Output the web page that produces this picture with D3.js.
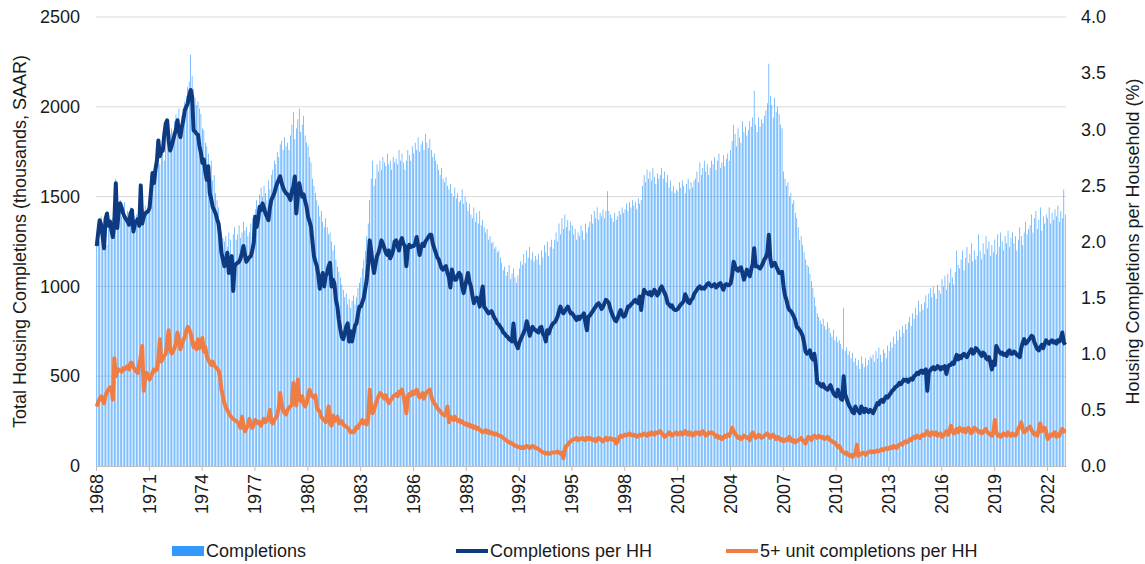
<!DOCTYPE html>
<html>
<head>
<meta charset="utf-8">
<script src="https://cdn.jsdelivr.net/npm/d3@7"></script>
<style>
  body { margin: 0; background: #fff; }
  text { font-family: "Liberation Sans", Arial, sans-serif; fill: #1a1a1a; }
</style>
</head>
<body>
<div class="vis-combo"></div>
<script>
// monthly, Jan 1968 - Jan 2023
const tickLabels = ['1968','1971','1974','1977','1980','1983','1986','1989','1992','1995',
    '1998','2001','2004','2007','2010','2013','2016','2019','2022'];

// total completions, thousands SAAR
const completions = [
  1290,1330,1250,1390,1280,1360,1320,1230,1400,1340,1310,1380, // 1968
  1420,1600,1360,1450,1480,1390,1440,1470,1380,1420,1400,1440,
  1430,1330,1390,1400,1380,1420,1560,1370,1430,1450,1420,1440, // 1970
  1500,1620,1580,1650,1600,1700,1780,1680,1720,1760,1700,1840,
  1900,1800,1850,1880,1860,1920,1960,1900,1990,1890,1950,1980,
  2030,2060,2110,2140,2290,2170,2100,2050,2010,2030,1990,1960,
  1880,1870,1800,1780,1740,1660,1700,1590,1620,1520,1480,1440,
  1350,1300,1270,1250,1280,1220,1300,1260,1170,1290,1330,1260, // 1975
  1290,1340,1270,1300,1360,1310,1330,1280,1300,1350,1380,1400,
  1430,1480,1420,1510,1550,1500,1560,1520,1480,1590,1540,1620,
  1650,1700,1680,1750,1720,1790,1810,1760,1830,1780,1800,1760,
  1840,1900,1970,1820,1880,1930,1990,1860,1900,1950,1840,1800,
  1780,1720,1690,1600,1560,1520,1480,1450,1390,1420,1360,1330, // 1980
  1380,1330,1290,1300,1250,1200,1230,1150,1110,1080,1050,1010,
  980,940,960,900,930,880,920,950,900,940,990,1020,
  1050,1100,1150,1200,1280,1350,1480,1600,1700,1560,1600,1680,
  1640,1700,1650,1720,1690,1670,1740,1680,1700,1650,1720,1690,
  1710,1680,1760,1700,1740,1690,1650,1700,1760,1730,1700,1780, // 1985
  1740,1800,1760,1830,1750,1790,1810,1760,1850,1800,1770,1820,
  1760,1720,1740,1700,1680,1650,1620,1660,1600,1580,1610,1560,
  1540,1570,1520,1500,1550,1490,1520,1470,1480,1540,1460,1500,
  1470,1420,1460,1400,1380,1440,1360,1410,1350,1420,1340,1370,
  1330,1300,1320,1260,1280,1240,1250,1210,1220,1190,1200,1160, // 1990
  1130,1090,1110,1060,1080,1120,1040,1070,1100,1050,1020,1060,
  1100,1140,1120,1180,1130,1200,1160,1220,1150,1190,1140,1170,
  1150,1180,1120,1200,1160,1230,1190,1250,1170,1220,1260,1210,
  1260,1300,1250,1350,1290,1380,1320,1400,1330,1370,1310,1360,
  1340,1290,1320,1260,1300,1280,1340,1310,1260,1350,1300,1330, // 1995
  1360,1400,1350,1420,1380,1440,1370,1410,1390,1430,1380,1420,
  1530,1420,1400,1380,1360,1410,1370,1390,1420,1400,1440,1410,
  1430,1460,1420,1470,1440,1480,1450,1470,1430,1490,1460,1480,
  1560,1620,1580,1650,1600,1640,1590,1660,1610,1570,1630,1600,
  1620,1660,1600,1640,1580,1620,1550,1590,1530,1560,1520,1540, // 2000
  1530,1580,1550,1590,1560,1520,1570,1600,1540,1580,1550,1590,
  1600,1640,1580,1690,1620,1660,1700,1640,1680,1620,1660,1700,
  1680,1720,1650,1700,1740,1660,1690,1730,1670,1710,1740,1700,
  1760,1810,1900,1850,1780,1880,1830,1800,1920,1860,1890,1840,
  1870,1920,1890,1940,2090,1900,1860,1940,1890,1930,1910,1950, // 2005
  1980,2020,2240,2060,2010,1940,2050,1970,2000,1960,1900,1880,
  1640,1600,1560,1580,1500,1520,1460,1480,1410,1380,1330,1260,
  1280,1230,1190,1150,1120,1110,1070,1030,990,940,890,850,
  830,810,790,820,780,760,800,770,740,720,760,700,
  720,690,700,680,650,880,640,660,620,640,600,630, // 2010
  580,600,560,590,540,610,570,550,600,560,590,610,
  600,620,580,640,600,660,620,580,650,630,600,670,
  640,690,660,720,680,750,700,760,720,780,740,790,
  760,800,830,780,850,820,880,840,920,860,900,870,
  910,950,880,960,990,940,1000,960,930,1010,980,960, // 2015
  1040,1000,1060,980,1070,1020,1100,1050,1010,1080,1200,1120,
  1100,1150,1200,1090,1160,1220,1130,1180,1240,1140,1200,1150,
  1170,1290,1200,1150,1240,1180,1280,1210,1250,1170,1230,1190,
  1260,1180,1290,1220,1300,1250,1200,1280,1240,1310,1220,1270,
  1300,1240,1280,1200,1260,1330,1280,1230,1300,1360,1290,1320, // 2020
  1340,1400,1300,1380,1420,1320,1370,1440,1310,1390,1350,1400,
  1380,1440,1350,1410,1370,1430,1390,1450,1360,1420,1380,1540,
  1400 // 2023
];

// completions per household, %
const perHH = [
  1.96,2.08,2.19,2.15,2.05,1.94,2.20,2.25,2.14,2.18,2.10,2.04, // 1968
  2.18,2.52,2.12,2.28,2.34,2.30,2.25,2.22,2.20,2.18,2.15,2.25,
  2.28,2.09,2.16,2.18,2.20,2.14,2.50,2.16,2.22,2.25,2.26,2.27, // 1970
  2.30,2.45,2.61,2.52,2.64,2.72,2.90,2.76,2.80,2.81,2.95,3.05,
  3.08,2.90,2.81,2.85,2.90,2.95,3.00,3.08,2.98,2.93,3.02,3.08,
  3.17,3.20,3.23,3.30,3.35,3.29,2.99,2.98,2.96,2.95,2.85,2.79,
  2.70,2.73,2.62,2.55,2.67,2.43,2.38,2.31,2.28,2.25,2.20,2.16,
  2.05,1.90,1.84,1.78,1.82,1.90,1.72,1.80,1.87,1.56,1.78,1.80, // 1975
  1.81,1.82,1.85,1.90,1.96,1.88,1.82,1.84,1.86,1.87,1.92,1.99,
  2.22,2.13,2.20,2.31,2.28,2.34,2.30,2.25,2.22,2.19,2.30,2.37,
  2.40,2.43,2.48,2.52,2.55,2.58,2.52,2.48,2.45,2.43,2.42,2.40,
  2.37,2.45,2.49,2.58,2.25,2.40,2.52,2.45,2.40,2.42,2.36,2.31,
  2.22,2.18,2.13,2.00,1.87,1.82,1.78,1.70,1.58,1.66,1.72,1.60, // 1980
  1.69,1.72,1.78,1.81,1.60,1.66,1.62,1.48,1.42,1.30,1.22,1.15,
  1.13,1.18,1.24,1.27,1.11,1.20,1.11,1.18,1.25,1.27,1.35,1.42,
  1.42,1.46,1.50,1.58,1.66,1.80,2.01,1.92,1.80,1.72,1.80,1.87,
  1.90,1.95,2.01,1.98,1.94,1.90,1.88,1.92,1.85,1.88,1.92,2.00,
  2.01,1.96,1.92,2.00,2.03,1.98,1.96,1.78,1.94,1.97,1.95,1.96, // 1985
  1.96,1.98,2.04,1.96,1.88,1.94,1.98,1.96,2.00,2.02,2.04,2.06,
  2.06,1.98,1.94,1.90,1.86,1.84,1.80,1.76,1.75,1.77,1.78,1.72,
  1.68,1.59,1.75,1.70,1.66,1.66,1.70,1.72,1.70,1.60,1.54,1.60,
  1.66,1.72,1.64,1.60,1.52,1.45,1.48,1.50,1.48,1.42,1.52,1.60,
  1.42,1.40,1.38,1.36,1.37,1.38,1.35,1.32,1.30,1.27,1.26,1.24, // 1990
  1.22,1.19,1.18,1.16,1.15,1.13,1.12,1.11,1.27,1.11,1.08,1.05,
  1.10,1.13,1.16,1.19,1.22,1.29,1.24,1.16,1.20,1.24,1.22,1.21,
  1.20,1.19,1.23,1.24,1.18,1.16,1.11,1.21,1.18,1.22,1.25,1.27,
  1.28,1.30,1.33,1.38,1.42,1.38,1.36,1.38,1.40,1.42,1.39,1.36,
  1.36,1.34,1.32,1.30,1.33,1.31,1.33,1.34,1.36,1.28,1.21,1.33, // 1995
  1.34,1.36,1.38,1.40,1.42,1.44,1.45,1.43,1.40,1.42,1.45,1.48,
  1.47,1.45,1.40,1.36,1.33,1.30,1.29,1.32,1.36,1.39,1.35,1.33,
  1.34,1.38,1.42,1.42,1.44,1.45,1.47,1.48,1.46,1.45,1.51,1.39,
  1.50,1.57,1.55,1.54,1.53,1.55,1.52,1.54,1.57,1.55,1.52,1.54,
  1.58,1.60,1.57,1.54,1.51,1.45,1.44,1.42,1.43,1.40,1.39,1.39, // 2000
  1.40,1.42,1.44,1.45,1.47,1.53,1.50,1.46,1.45,1.48,1.49,1.53,
  1.55,1.57,1.59,1.60,1.58,1.59,1.58,1.60,1.62,1.63,1.61,1.60,
  1.61,1.62,1.59,1.60,1.62,1.63,1.60,1.57,1.61,1.62,1.61,1.61,
  1.63,1.70,1.82,1.78,1.75,1.74,1.76,1.77,1.72,1.66,1.70,1.75,
  1.72,1.69,1.75,1.80,1.94,1.78,1.78,1.77,1.76,1.78,1.81,1.84, // 2005
  1.86,1.90,2.06,1.85,1.78,1.80,1.81,1.78,1.75,1.72,1.72,1.73,
  1.60,1.52,1.48,1.42,1.39,1.38,1.36,1.33,1.30,1.24,1.23,1.21,
  1.19,1.16,1.10,1.02,1.00,1.01,1.03,0.97,0.95,1.00,0.90,0.74,
  0.74,0.72,0.71,0.73,0.70,0.69,0.68,0.70,0.72,0.68,0.65,0.63,
  0.62,0.68,0.64,0.60,0.59,0.80,0.64,0.60,0.56,0.53,0.51,0.48, // 2010
  0.47,0.53,0.50,0.49,0.47,0.53,0.51,0.48,0.51,0.49,0.48,0.50,
  0.49,0.47,0.50,0.53,0.56,0.55,0.58,0.59,0.57,0.60,0.62,0.61,
  0.63,0.65,0.67,0.68,0.70,0.71,0.72,0.74,0.73,0.75,0.77,0.76,
  0.77,0.75,0.77,0.78,0.77,0.80,0.81,0.83,0.82,0.84,0.85,0.83,
  0.85,0.86,0.67,0.84,0.85,0.87,0.88,0.86,0.87,0.89,0.88,0.86, // 2015
  0.88,0.87,0.89,0.82,0.88,0.90,0.90,0.92,0.91,0.95,0.99,0.95,
  0.98,0.96,0.99,1.00,0.98,0.97,1.00,1.02,1.04,1.00,1.01,1.05,
  1.04,1.02,1.00,0.98,1.01,1.00,0.96,0.95,0.97,0.92,0.86,0.93,
  0.90,1.07,1.04,1.02,1.00,1.01,0.99,1.00,0.98,1.02,1.03,1.00,
  1.00,1.02,1.01,0.99,0.98,0.97,1.05,1.10,1.13,1.09,1.10,1.12, // 2020
  1.14,1.16,1.15,1.10,1.07,1.04,1.03,1.06,1.08,1.05,1.09,1.12,
  1.10,1.09,1.11,1.12,1.10,1.11,1.09,1.12,1.11,1.14,1.19,1.10,
  1.08 // 2023
];

// 5+ unit completions per household, %
const fivePlusPerHH = [
  0.53,0.57,0.60,0.62,0.59,0.56,0.63,0.66,0.68,0.70,0.69,0.59, // 1968
  0.96,0.80,0.84,0.86,0.85,0.84,0.87,0.86,0.88,0.89,0.86,0.92,
  0.92,0.88,0.86,0.84,0.83,0.90,0.98,1.07,0.67,0.80,0.83,0.80, // 1970
  0.77,0.80,0.83,0.86,0.85,0.86,0.95,1.13,0.93,0.96,0.98,1.00,
  1.10,1.21,1.04,1.00,1.02,1.05,1.10,1.19,1.12,1.04,1.08,1.12,
  1.15,1.20,1.24,1.22,1.18,1.12,1.06,1.09,1.04,1.13,1.05,1.09,
  1.14,1.02,1.06,0.98,0.95,0.92,0.90,0.93,0.90,0.88,0.87,0.85,
  0.80,0.68,0.62,0.56,0.52,0.50,0.47,0.45,0.43,0.42,0.41,0.40, // 1975
  0.39,0.37,0.34,0.44,0.36,0.31,0.34,0.36,0.42,0.38,0.34,0.37,
  0.41,0.40,0.38,0.39,0.36,0.40,0.42,0.39,0.41,0.43,0.50,0.39,
  0.38,0.41,0.43,0.45,0.52,0.65,0.55,0.50,0.47,0.46,0.50,0.52,
  0.53,0.55,0.74,0.56,0.54,0.77,0.60,0.58,0.62,0.55,0.53,0.56,
  0.62,0.68,0.64,0.62,0.61,0.63,0.52,0.50,0.48,0.44,0.42,0.41, // 1980
  0.39,0.45,0.53,0.38,0.36,0.45,0.40,0.42,0.44,0.38,0.39,0.40,
  0.37,0.36,0.35,0.34,0.32,0.30,0.31,0.30,0.32,0.35,0.34,0.37,
  0.39,0.41,0.38,0.40,0.37,0.42,0.68,0.52,0.47,0.50,0.55,0.59,
  0.62,0.65,0.64,0.62,0.60,0.63,0.59,0.56,0.58,0.60,0.62,0.63,
  0.64,0.62,0.66,0.65,0.68,0.63,0.55,0.47,0.62,0.64,0.63,0.66, // 1985
  0.64,0.66,0.68,0.64,0.61,0.62,0.65,0.60,0.64,0.66,0.67,0.68,
  0.62,0.58,0.56,0.54,0.52,0.50,0.49,0.47,0.46,0.45,0.47,0.53,
  0.39,0.44,0.43,0.41,0.44,0.42,0.40,0.41,0.39,0.40,0.38,0.37,
  0.38,0.36,0.37,0.35,0.36,0.34,0.35,0.33,0.34,0.32,0.31,0.30,
  0.31,0.32,0.30,0.31,0.29,0.30,0.29,0.28,0.29,0.28,0.27,0.27, // 1990
  0.26,0.25,0.24,0.23,0.22,0.21,0.21,0.20,0.19,0.18,0.18,0.17,
  0.17,0.16,0.17,0.16,0.17,0.18,0.17,0.16,0.17,0.18,0.17,0.16,
  0.16,0.15,0.14,0.13,0.12,0.12,0.11,0.12,0.11,0.11,0.12,0.12,
  0.12,0.12,0.13,0.12,0.11,0.12,0.07,0.15,0.18,0.19,0.21,0.22,
  0.23,0.24,0.24,0.25,0.23,0.24,0.24,0.25,0.24,0.23,0.25,0.24, // 1995
  0.25,0.24,0.23,0.24,0.22,0.24,0.25,0.24,0.23,0.22,0.24,0.25,
  0.23,0.24,0.25,0.24,0.23,0.24,0.20,0.22,0.25,0.27,0.26,0.27,
  0.28,0.27,0.28,0.29,0.28,0.27,0.28,0.27,0.26,0.27,0.28,0.27,
  0.28,0.29,0.28,0.27,0.29,0.28,0.30,0.29,0.28,0.30,0.29,0.30,
  0.31,0.29,0.28,0.26,0.27,0.28,0.30,0.29,0.27,0.28,0.29,0.30, // 2000
  0.28,0.29,0.30,0.28,0.29,0.31,0.30,0.28,0.30,0.29,0.27,0.28,
  0.30,0.29,0.30,0.28,0.30,0.31,0.29,0.27,0.28,0.30,0.29,0.30,
  0.29,0.28,0.26,0.27,0.25,0.26,0.24,0.25,0.27,0.26,0.28,0.27,
  0.30,0.34,0.31,0.29,0.27,0.25,0.26,0.24,0.25,0.27,0.26,0.25,
  0.26,0.23,0.28,0.30,0.27,0.25,0.26,0.28,0.27,0.25,0.26,0.27, // 2005
  0.28,0.29,0.27,0.25,0.27,0.28,0.26,0.24,0.26,0.25,0.23,0.24,
  0.22,0.23,0.24,0.23,0.26,0.24,0.22,0.23,0.21,0.22,0.23,0.24,
  0.25,0.23,0.22,0.20,0.24,0.26,0.25,0.23,0.26,0.27,0.26,0.25,
  0.27,0.26,0.25,0.26,0.24,0.25,0.26,0.24,0.23,0.22,0.21,0.21,
  0.19,0.17,0.18,0.15,0.13,0.12,0.11,0.12,0.10,0.09,0.10,0.08, // 2010
  0.10,0.11,0.19,0.09,0.10,0.11,0.12,0.11,0.10,0.12,0.12,0.13,
  0.12,0.13,0.12,0.13,0.14,0.13,0.14,0.15,0.14,0.15,0.16,0.15,
  0.16,0.17,0.16,0.18,0.17,0.16,0.18,0.19,0.20,0.19,0.21,0.22,
  0.21,0.22,0.24,0.23,0.25,0.26,0.25,0.27,0.26,0.25,0.27,0.28,
  0.27,0.29,0.31,0.28,0.27,0.30,0.29,0.28,0.30,0.27,0.28,0.29, // 2015
  0.26,0.27,0.29,0.31,0.28,0.30,0.36,0.32,0.29,0.31,0.33,0.30,
  0.34,0.32,0.31,0.33,0.30,0.32,0.34,0.31,0.29,0.31,0.34,0.33,
  0.32,0.30,0.31,0.29,0.30,0.32,0.33,0.30,0.29,0.28,0.27,0.30,
  0.41,0.30,0.27,0.28,0.26,0.27,0.29,0.28,0.27,0.30,0.28,0.27,
  0.29,0.28,0.27,0.29,0.33,0.36,0.39,0.33,0.30,0.31,0.33,0.34, // 2020
  0.35,0.32,0.30,0.28,0.29,0.27,0.33,0.38,0.31,0.33,0.34,0.30,
  0.24,0.26,0.28,0.27,0.29,0.30,0.26,0.28,0.27,0.31,0.33,0.31,
  0.30 // 2023
];

const seriesNames = ['Completions', 'Completions per HH', '5+ unit completions per HH'];
const seriesColors = ['#3399ff', '#0d3a80', '#f07e44'];

const drawcombo = () => {
    const W = 1145, H = 564;
    const margin = {top: 17, right: 79, bottom: 98, left: 96};
    const width = W - margin.left - margin.right;
    const height = H - margin.top - margin.bottom;
    const n = completions.length;

    const svg = d3.select('.vis-combo').append('svg')
        .attr('width', W)
        .attr('height', H);
    const g = svg.append('g')
        .attr('transform', 'translate(' + margin.left + ',' + margin.top + ')');

    const x = d3.scaleBand()
        .domain(d3.range(n))
        .range([0, width])
        .paddingInner(0.58)
        .paddingOuter(0.29);
    // tick marks sit between categories, like Excel
    const xt = d3.scaleLinear().domain([0, n]).range([0, width]);
    const y = d3.scaleLinear().domain([0, 2500]).range([height, 0]);
    const y2 = d3.scaleLinear().domain([0, 4]).range([height, 0]);

    // gridlines
    g.append('g')
        .selectAll('line')
        .data(y.ticks(5).filter(d => d > 0))
        .enter().append('line')
        .attr('x1', 0).attr('x2', width)
        .attr('y1', d => y(d)).attr('y2', d => y(d))
        .attr('stroke', '#d9d9d9')
        .attr('stroke-width', 1);

    g.append('g')
        .selectAll('rect')
        .data(completions)
        .enter().append('rect')
        .attr('x', (d, i) => x(i))
        .attr('width', x.bandwidth())
        .attr('y', d => y(d))
        .attr('height', d => height - y(d))
        .attr('fill', seriesColors[0]);

    const line = (scale) => d3.line()
        .x((d, i) => x(i) + x.bandwidth() / 2)
        .y(d => scale(d));

    g.append('path')
        .datum(fivePlusPerHH)
        .attr('fill', 'none')
        .attr('stroke', seriesColors[2])
        .attr('stroke-width', 4)
        .attr('stroke-linejoin', 'round')
        .attr('d', line(y2));

    g.append('path')
        .datum(perHH)
        .attr('fill', 'none')
        .attr('stroke', seriesColors[1])
        .attr('stroke-width', 4)
        .attr('stroke-linejoin', 'round')
        .attr('d', line(y2));

    // x axis
    const xAxis = g.append('g')
        .attr('transform', 'translate(0,' + height + ')')
        .call(d3.axisBottom(xt)
            .tickValues(d3.range(0, n, 36))
            .tickFormat((d, i) => tickLabels[i])
            .tickSize(5)
            .tickSizeOuter(0));
    xAxis.select('.domain').attr('stroke', '#bfbfbf');
    xAxis.selectAll('.tick line').attr('stroke', '#bfbfbf');
    xAxis.selectAll('.tick text')
        .attr('transform', 'rotate(-90)')
        .attr('x', -8)
        .attr('y', 0)
        .attr('dy', '0.35em')
        .style('text-anchor', 'end')
        .style('font-size', '18px')
        .style('fill', '#1a1a1a');

    // left axis
    const yAxis = g.append('g')
        .call(d3.axisLeft(y).ticks(5).tickFormat(d3.format('d')).tickSize(0).tickPadding(16));
    yAxis.select('.domain').remove();
    yAxis.selectAll('text').style('font-size', '18px').style('fill', '#1a1a1a');

    // right axis
    const yAxis2 = g.append('g')
        .attr('transform', 'translate(' + width + ',0)')
        .call(d3.axisRight(y2).ticks(8).tickFormat(d3.format('.1f')).tickSize(0).tickPadding(15));
    yAxis2.select('.domain').remove();
    yAxis2.selectAll('text').style('font-size', '18px').style('fill', '#1a1a1a');

    // axis titles
    svg.append('text')
        .attr('transform', 'translate(26,' + (margin.top + height / 2) + ') rotate(-90)')
        .attr('text-anchor', 'middle')
        .style('font-size', '18px')
        .text('Total Housing Completions (thousands, SAAR)');
    svg.append('text')
        .attr('transform', 'translate(1139,' + (margin.top + height / 2) + ') rotate(-90)')
        .attr('text-anchor', 'middle')
        .style('font-size', '18px')
        .text('Housing Completions per Household (%)');

    // legend
    const legendX = [172, 456, 726];
    const legendG = svg.selectAll('.legend')
        .data(seriesNames)
        .enter().append('g')
        .attr('class', 'legend')
        .attr('transform', (d, i) => 'translate(' + legendX[i] + ',551)');
    legendG.each(function (d, i) {
        const el = d3.select(this);
        if (i === 0) {
            el.append('rect')
                .attr('x', 0).attr('y', -5)
                .attr('width', 32).attr('height', 10)
                .attr('fill', seriesColors[0]);
        } else {
            el.append('line')
                .attr('x1', 0).attr('x2', 32)
                .attr('y1', 0).attr('y2', 0)
                .attr('stroke', seriesColors[i])
                .attr('stroke-width', 4);
        }
    });
    legendG.append('text')
        .attr('x', 34)
        .attr('y', 0)
        .attr('dy', '0.35em')
        .style('font-size', '18px')
        .text(d => d);
};

drawcombo();
</script>
</body>
</html>
